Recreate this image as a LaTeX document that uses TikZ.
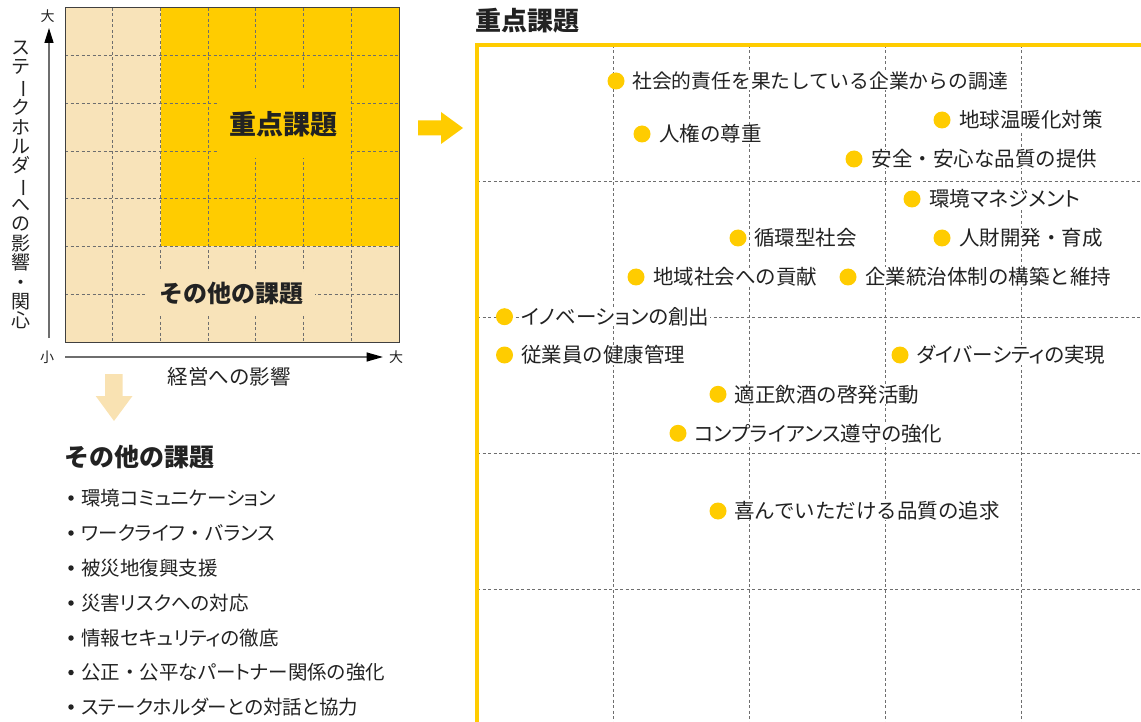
\documentclass[tikz,border=0pt]{standalone}
\usepackage{fontspec}
\usepackage{graphicx}
\usetikzlibrary{arrows.meta}
\newfontfamily\jp{Noto Sans CJK JP}
\newfontfamily\jpp{Noto Sans CJK JP}[RawFeature=+palt]
\definecolor{gold}{HTML}{FFCC00}
\definecolor{beige}{HTML}{F8E3B9}
\definecolor{arrowbeige}{HTML}{F9E2B2}
\definecolor{gridgray}{HTML}{6E6E6E}
\definecolor{ink}{HTML}{222222}
\newcommand\fwdot{{\jp ・}}
\begin{document}
\begin{tikzpicture}[x=1pt,y=-1pt,
  gridline/.style={draw=gridgray, line width=0.8pt, dash pattern=on 3pt off 2.5pt},
  lbl/.style={anchor=west, fill=white, inner xsep=1pt, inner ysep=0pt, text=ink, font=\jp\fontsize{20.5}{22}\selectfont},
  plbl/.style={lbl, font=\jpp\fontsize{20.5}{22}\selectfont},
  dot/.style={circle, fill=gold, minimum size=17pt, inner sep=0pt},
  litem/.style={anchor=west, inner sep=0pt, text=ink, font=\jpp\fontsize{19.5}{21}\selectfont},
  bullet/.style={circle, fill=ink, minimum size=5.5pt, inner sep=0pt},
  heading/.style={inner sep=0pt, text=ink, font=\jp\bfseries\fontsize{26}{28}\selectfont},
  small/.style={inner sep=0pt, text=ink, font=\jp\fontsize{14}{15}\selectfont},
  axis/.style={draw=gridgray, line width=1.5pt}
]
\useasboundingbox (0,0) rectangle (1141,722);

% ---------- left matrix ----------
\fill[beige] (65,8) rectangle (399,342);
\fill[gold] (160.7,8) rectangle (399,246);
\foreach \i in {1,...,6} {
  \draw[gridline] ({65+\i*47.714},8) -- ({65+\i*47.714},342);
  \draw[gridline] (65,{8+\i*47.714}) -- (399,{8+\i*47.714});
}
\node[fill=gold, minimum width=133pt, minimum height=68pt, inner sep=0pt, text=ink,
      font=\jp\bfseries\fontsize{27}{29}\selectfont] (keybox) at (283,124) {重点課題};
\node[fill=beige, minimum width=168pt, minimum height=43pt, inner sep=0pt, text=ink,
      font=\jp\bfseries\fontsize{24}{26}\selectfont] (otherbox) at (231,293.5) {その他の課題};
\draw[draw=black!75, line width=1pt] (65,8) rectangle (399,342);

% axes
\coordinate (yo) at (49,338);
\coordinate (yt) at (49,28);
\coordinate (xo) at (65,357);
\coordinate (xt) at (383,357);
\draw[axis, -{Triangle[length=15pt,width=9pt,color=black]}] (yo) -- (yt);
\draw[axis, -{Triangle[length=16.5pt,width=9pt,color=black]}] (xo) -- (xt);
\node[small] (ybig) at (47.5,16) {大};
\node[small] (xsmall) at (47,357) {小};
\node[small] (xbig) at (396,357) {大};
\node[inner sep=0pt, text=ink, font=\jp\fontsize{20.5}{22}\selectfont] (xlabel) at (229,377) {経営への影響};
\node[inner sep=0pt, text=ink, align=center, font=\jp\fontsize{19}{19.35}\selectfont] (ylabel) at (21,185)
  {ス\\テ\\\rotatebox[origin=c]{-90}{ー}\\ク\\ホ\\ル\\ダ\\\rotatebox[origin=c]{-90}{ー}\\へ\\の\\影\\響\\・\\関\\心};

% arrows
\fill[arrowbeige] (105.2,374) -- (122.7,374) -- (122.7,396) -- (132.5,396) -- (114,421)
  -- (95.7,396) -- (105.2,396) -- cycle;
\fill[gold] (418,120.5) -- (441,120.5) -- (441,112) -- (463,128) -- (441,144)
  -- (441,135.5) -- (418,135.5) -- cycle;

% ---------- other issues list ----------
\node[heading, anchor=west, font=\jp\bfseries\fontsize{25}{27}\selectfont] (otherhead) at (64,457) {その他の課題};
\foreach \y/\t [count=\k] in {498/環境コミュニケーション, 533/ワークライフ\fwdot バランス, 568/被災地復興支援,
    603/災害リスクへの対応, 638/情報セキュリティの徹底, 672.5/公正\fwdot 公平なパートナー関係の強化,
    707/ステークホルダーとの対話と協力} {
  \node[bullet] (b\k) at (71,\y) {};
  \node[litem] (li\k) at (81,\y) {\t};
}

% ---------- right panel ----------
\node[heading, anchor=west] (righthead) at (475,21) {重点課題};
\foreach \x in {613,749,885,1021} \draw[gridline] (\x,45) -- (\x,722);
\foreach \y in {181,317,453,589} \draw[gridline] (477,\y) -- (1141,\y);
\draw[gold, line width=4pt, line join=miter] (1141,45.3) -- (476.7,45.3) -- (476.7,722);

\node[dot] (d1) at (616,81) {};      \node[lbl, font=\jp\fontsize{19.8}{22}\selectfont] (t1) at (631,81) {社会的責任を果たしている企業からの調達};
\node[dot] (d2) at (642,134) {};     \node[lbl] (t2) at (658,134) {人権の尊重};
\node[dot] (d3) at (942,120) {};     \node[lbl] (t3) at (958,120) {地球温暖化対策};
\node[dot] (d4) at (854,159) {};     \node[lbl] (t4) at (870.5,159) {安全・安心な品質の提供};
\node[dot] (d5) at (912,199) {};     \node[plbl] (t5) at (928,199) {環境マネジメント};
\node[dot] (d6) at (738,238) {};     \node[lbl] (t6) at (753,238) {循環型社会};
\node[dot] (d7) at (942,238) {};     \node[lbl] (t7) at (958,238) {人財開発・育成};
\node[dot] (d8) at (636,277) {};     \node[lbl] (t8) at (652,277) {地域社会への貢献};
\node[dot] (d9) at (848,277) {};     \node[lbl] (t9) at (864,277) {企業統治体制の構築と維持};
\node[dot] (d10) at (504.5,316.7) {};\node[plbl] (t10) at (520,316.7) {イノベーションの創出};
\node[dot] (d11) at (504.5,355) {};  \node[lbl] (t11) at (520,355) {従業員の健康管理};
\node[dot] (d12) at (900,355) {};    \node[plbl] (t12) at (915.5,355) {ダイバーシティの実現};
\node[dot] (d13) at (718,394.3) {};  \node[lbl] (t13) at (733.4,394.3) {適正飲酒の啓発活動};
\node[dot] (d14) at (678,433.3) {};  \node[plbl] (t14) at (693.3,433.3) {コンプライアンス遵守の強化};
\node[dot] (d15) at (718,511) {};    \node[lbl] (t15) at (733,511) {喜んでいただける品質の追求};
\end{tikzpicture}
\end{document}
